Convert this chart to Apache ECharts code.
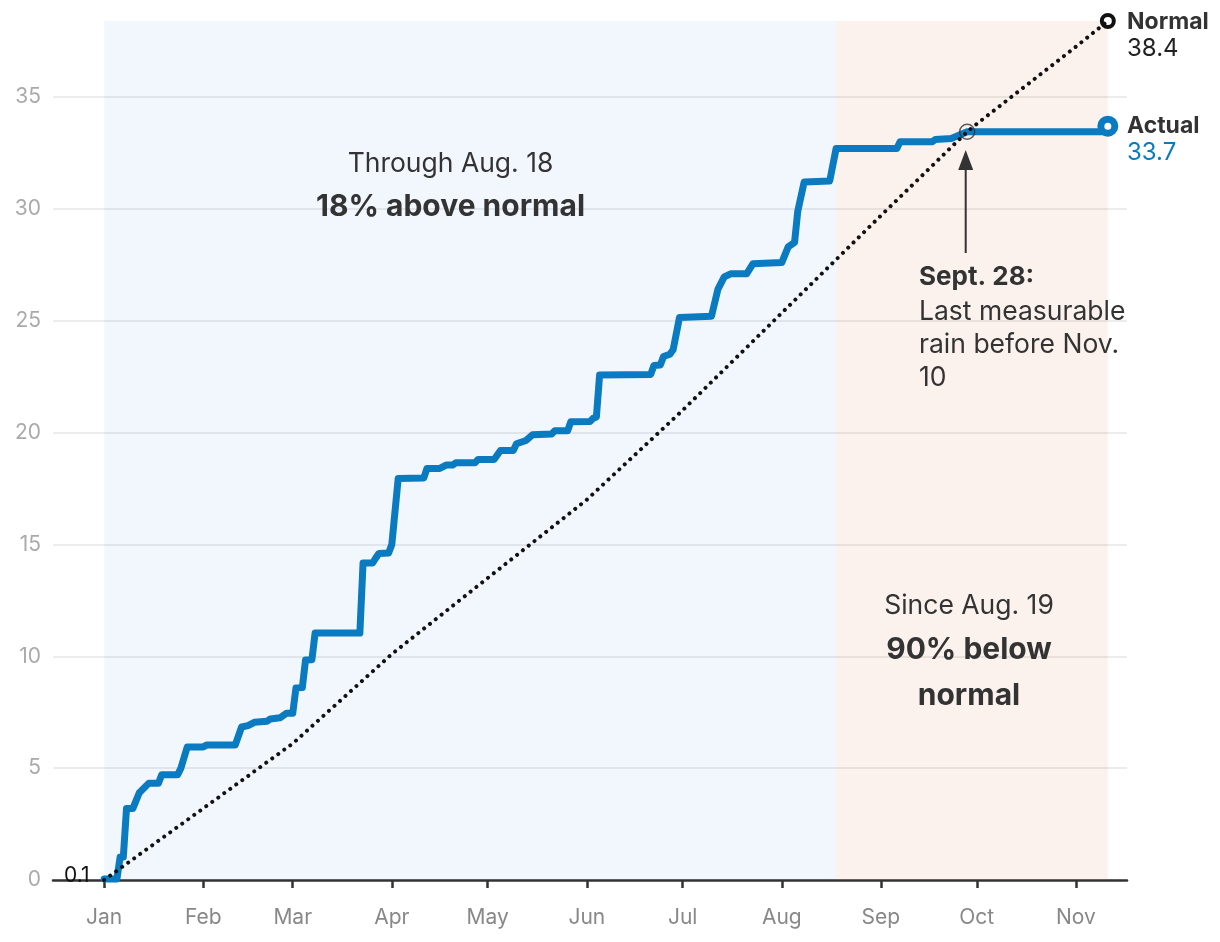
<!DOCTYPE html>
<html>
<head>
<meta charset="utf-8">
<script src="https://cdn.jsdelivr.net/npm/echarts@6/dist/echarts.min.js"></script>
<style>
html,body{margin:0;padding:0;background:#fff;}
#c{width:1220px;height:942px;}
</style>
</head>
<body>
<div id="c"></div>
<script>
// ---------- DATA ----------
const xStart = '2021-12-16';
const xEnd = '2022-11-17';
const monthTicks = ['2022-01-01','2022-02-01','2022-03-01','2022-04-01','2022-05-01','2022-06-01',
  '2022-07-01','2022-08-01','2022-09-01','2022-10-01','2022-11-01'];
const monthLabels = ['Jan','Feb','Mar','Apr','May','Jun','Jul','Aug','Sep','Oct','Nov','Dec'];
const yTicks = [0, 5, 10, 15, 20, 25, 30, 35];
const yMax = 38.4;

const actualDates = [
  '2022-01-01','2022-01-05','2022-01-06','2022-01-07','2022-01-08','2022-01-10','2022-01-12','2022-01-15',
  '2022-01-18','2022-01-19','2022-01-24','2022-01-25','2022-01-27','2022-02-01','2022-02-02','2022-02-11',
  '2022-02-13','2022-02-15','2022-02-17','2022-02-21','2022-02-22','2022-02-25','2022-02-27','2022-03-01',
  '2022-03-02','2022-03-04','2022-03-05','2022-03-07','2022-03-08','2022-03-22','2022-03-23','2022-03-26',
  '2022-03-27','2022-03-28','2022-03-31','2022-04-01','2022-04-03','2022-04-11','2022-04-12','2022-04-16',
  '2022-04-18','2022-04-20','2022-04-21','2022-04-27','2022-04-28','2022-05-03','2022-05-05','2022-05-09',
  '2022-05-10','2022-05-13','2022-05-15','2022-05-21','2022-05-22','2022-05-26','2022-05-27','2022-06-02',
  '2022-06-03','2022-06-04','2022-06-05','2022-06-21','2022-06-22','2022-06-24','2022-06-25','2022-06-27',
  '2022-06-28','2022-06-30','2022-07-10','2022-07-12','2022-07-14','2022-07-16','2022-07-21','2022-07-23',
  '2022-08-01','2022-08-03','2022-08-05','2022-08-06','2022-08-08','2022-08-16','2022-08-18','2022-09-06',
  '2022-09-07','2022-09-17','2022-09-18','2022-09-23','2022-09-28','2022-11-10','2022-11-11'
];
const actualValues = [
  0.05, 0.05, 1.03, 1.03, 3.2, 3.2, 3.9, 4.33,
  4.33, 4.7, 4.7, 5.0, 5.95, 5.95, 6.03, 6.03,
  6.84, 6.9, 7.05, 7.1, 7.2, 7.25, 7.45, 7.45,
  8.58, 8.6, 9.83, 9.85, 11.04, 11.04, 14.17, 14.17,
  14.4, 14.6, 14.62, 15.0, 17.95, 17.97, 18.4, 18.4,
  18.55, 18.55, 18.65, 18.65, 18.8, 18.8, 19.2, 19.2,
  19.5, 19.65, 19.9, 19.94, 20.08, 20.08, 20.49, 20.5,
  20.64, 20.7, 22.57, 22.6, 23.0, 23.02, 23.4, 23.5,
  23.7, 25.15, 25.2, 26.4, 26.96, 27.1, 27.1, 27.55,
  27.6, 28.3, 28.5, 29.9, 31.2, 31.25, 32.7, 32.7,
  33.0, 33.0, 33.1, 33.15, 33.45, 33.45, 33.7
];

const normalDates = ['2022-01-01','2022-02-01','2022-03-01','2022-04-01','2022-05-01','2022-06-01',
  '2022-07-01','2022-08-01','2022-09-01','2022-09-28','2022-10-01','2022-11-01','2022-11-11'];
const normalValues = [0, 3.2, 6.1, 10.1, 13.5, 17.0, 21.0, 25.35, 29.7, 33.45, 33.8, 37.25, 38.4];

const aboveStart = '2022-01-01';
const splitDate = '2022-08-18';
const belowEnd = '2022-11-11';
const lastRainDate = '2022-09-28';
const lastRainValue = 33.45;

// ---------- HELPERS ----------
function ts(d){ const p = d.split('-').map(Number); return Date.UTC(p[0], p[1]-1, p[2]); }
const actualData = actualDates.map((d,i)=>[ts(d), actualValues[i]]);
const normalData = normalDates.map((d,i)=>[ts(d), normalValues[i]]);
const FONT = 'Inter, "Noto Sans", sans-serif';
const BLUE = '#0a7bc1';
const DARK = '#333333';

const chart = echarts.init(document.getElementById('c'), null, {renderer:'canvas'});

function txt(text, x, y, size, weight, color, align){
  return { type:'text', x:x, y:y, z:100, silent:true,
    style:{ text:text, fill:color||DARK, fontSize:size, fontWeight:weight||'normal',
      fontFamily:FONT, align:align||'left', verticalAlign:'middle' } };
}

const option = {
  animation: false,
  backgroundColor: '#ffffff',
  grid: { left: 53, right: 93, top: 21, bottom: 62, containLabel: false },
  xAxis: {
    type: 'value',
    min: ts(xStart), max: ts(xEnd),
    axisLine: { show: true, onZero: false, lineStyle: { color: '#333', width: 2.5 } },
    axisTick: { show: true, length: 8, lineStyle: { color: '#333', width: 2.5 },
      customValues: monthTicks.map(ts) },
    axisLabel: { color: '#888', fontSize: 21, fontFamily: FONT, margin: 27,
      customValues: monthTicks.map(ts),
      formatter: function(v){ return monthLabels[new Date(v).getUTCMonth()]; } },
    splitLine: { show: false }
  },
  yAxis: {
    type: 'value', min: 0, max: yMax, interval: 5,
    axisLine: { show: false },
    axisTick: { show: false, customValues: yTicks },
    axisLabel: { color: '#aaa', fontSize: 21, fontFamily: FONT, margin: 12,
      customValues: yTicks },
    splitLine: { show: true, lineStyle: { color: '#e6e6e6', width: 1.5 } }
  },
  series: [
    {
      name: 'Actual', type: 'line', data: actualData, z: 4,
      showSymbol: false, symbol: 'none',
      lineStyle: { color: BLUE, width: 7, join: 'round', cap: 'round' },
      markArea: {
        silent: true,
        data: [
          [ { xAxis: ts(aboveStart), itemStyle: { color: 'rgba(20,120,220,0.06)' } }, { xAxis: ts(splitDate) } ],
          [ { xAxis: ts(splitDate), itemStyle: { color: 'rgba(210,110,60,0.09)' } }, { xAxis: ts(belowEnd) } ]
        ]
      },
      markPoint: {
        silent: true,
        symbol: 'circle', symbolSize: 14,
        itemStyle: { color: '#fff', borderColor: BLUE, borderWidth: 7 },
        label: { show: false },
        data: [ { coord: actualData[actualData.length-1] } ]
      }
    },
    {
      name: 'Normal', type: 'line', data: normalData, z: 5,
      showSymbol: false, symbol: 'none',
      lineStyle: { color: '#111', width: 4, type: [0.01, 7.4], cap: 'round' },
      markPoint: {
        silent: true,
        symbol: 'circle', symbolSize: 12,
        itemStyle: { color: '#fff', borderColor: '#111', borderWidth: 4 },
        label: { show: false },
        data: [ { coord: normalData[normalData.length-1] } ]
      }
    },
    {
      name: 'LastRain', type: 'scatter', z: 6, silent: true,
      data: [[ts(lastRainDate), lastRainValue]],
      symbol: 'circle', symbolSize: 15,
      itemStyle: { color: 'rgba(0,0,0,0)', borderColor: '#333', borderWidth: 1.5 }
    }
  ],
  graphic: [
    txt('Through Aug. 18', 450.5, 164, 26.5, 'normal', DARK, 'center'),
    txt('18% above normal', 450.5, 207, 30, 'bold', DARK, 'center'),
    txt('Since Aug. 19', 969, 606, 26.5, 'normal', DARK, 'center'),
    txt('90% below', 969, 650, 30, 'bold', DARK, 'center'),
    txt('normal', 969, 696, 30, 'bold', DARK, 'center'),
    txt('Sept. 28:', 919, 277, 26, 'bold', DARK, 'left'),
    txt('Last measurable', 919, 312, 26.5, 'normal', DARK, 'left'),
    txt('rain before Nov.', 919, 345, 26.5, 'normal', DARK, 'left'),
    txt('10', 919, 378, 26.5, 'normal', DARK, 'left'),
    txt('Normal', 1127, 22, 23, 'bold', DARK, 'left'),
    txt('38.4', 1127, 49, 24, 'normal', '#222', 'left'),
    txt('Actual', 1127, 126, 23, 'bold', DARK, 'left'),
    txt('33.7', 1127, 153, 24, 'normal', BLUE, 'left'),
    txt('0.1', 64, 876, 21, 'normal', '#111', 'left'),
    { type:'line', z:100, silent:true, shape:{ x1:965.7, y1:253, x2:965.7, y2:166 },
      style:{ stroke:'#333', lineWidth:2 } },
    { type:'polygon', z:100, silent:true, shape:{ points:[[965.7,150],[958.2,170],[973.2,170]] },
      style:{ fill:'#333' } }
  ]
};
chart.setOption(option);
</script>
</body>
</html>
